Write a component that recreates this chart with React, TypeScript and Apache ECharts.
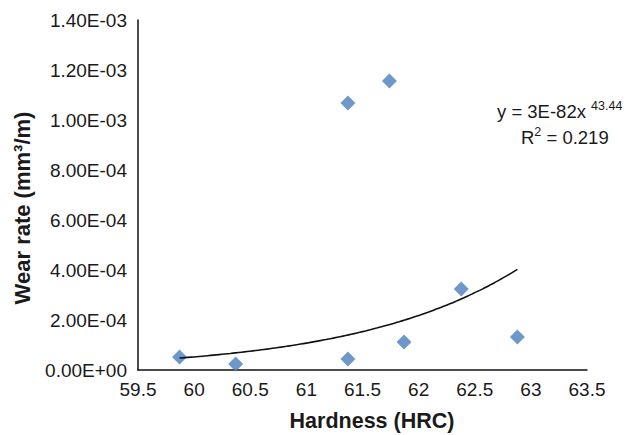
import React, { useEffect, useRef } from "react";
import * as echarts from "echarts";

// Data
const hardness = [59.87, 60.37, 61.37, 61.37, 61.74, 61.87, 62.38, 62.88];
const wearRate = [5.2e-5, 2.4e-5, 4.4e-5, 1.068e-3, 1.156e-3, 1.12e-4, 3.24e-4, 1.32e-4];

// Power trendline shown on the chart: y = 3E-82 x^43.44
const trendCoef = 3e-82;
const trendExp = 43.44;
const trendSamples = 60;

const xTicks = { min: 59.5, max: 63.5, interval: 0.5 };
const yTicks = { min: 0, max: 0.0014, interval: 0.0002 };

const FONT = "'Liberation Sans', Arial, Helvetica, sans-serif";
const TEXT = "#1a1a1a";

function sci(v: number): string {
  const s = v.toExponential(2); // e.g. 1.40e-3
  const [m, e] = s.split("e");
  const sign = e[0] === "-" ? "-" : "+";
  const digits = e.replace(/^[+-]/, "").padStart(2, "0");
  return `${m}E${sign}${digits}`;
}

export default function App() {
  const ref = useRef<HTMLDivElement>(null);

  useEffect(() => {
    if (!ref.current) return;
    const chart = echarts.init(ref.current, undefined, { renderer: "svg" });

    const points = hardness.map((h, i) => [h, wearRate[i]]);
    const xMin = Math.min(...hardness);
    const xMax = Math.max(...hardness);
    const trend: number[][] = [];
    for (let i = 0; i <= trendSamples; i++) {
      const x = xMin + ((xMax - xMin) * i) / trendSamples;
      trend.push([x, trendCoef * Math.pow(x, trendExp)]);
    }

    const richStyles = {
      m: { fontSize: 18.5, lineHeight: 22, fontFamily: FONT, fill: TEXT, verticalAlign: "bottom" },
      s: { fontSize: 12.5, lineHeight: 22, fontFamily: FONT, fill: TEXT, verticalAlign: "top" },
    };

    chart.setOption({
      animation: false,
      backgroundColor: "#ffffff",
      grid: { left: 138, right: 41, top: 20, bottom: 65, containLabel: false },
      xAxis: {
        type: "value",
        min: xTicks.min,
        max: xTicks.max,
        interval: xTicks.interval,
        axisLine: { show: true, onZero: false, lineStyle: { color: "#111", width: 1.5 } },
        axisTick: { show: false },
        splitLine: { show: false },
        axisLabel: { color: TEXT, fontSize: 19, fontFamily: FONT, margin: 10 },
      },
      yAxis: {
        type: "value",
        min: yTicks.min,
        max: yTicks.max,
        interval: yTicks.interval,
        axisLine: { show: true, onZero: false, lineStyle: { color: "#111", width: 1.5 } },
        axisTick: { show: false },
        splitLine: { show: false },
        axisLabel: {
          color: TEXT,
          fontSize: 19,
          fontFamily: FONT,
          margin: 11,
          formatter: (v: number) => sci(v),
        },
      },
      series: [
        {
          name: "Wear rate",
          type: "scatter",
          data: points,
          symbol: "diamond",
          symbolSize: 15,
          itemStyle: { color: "#4A7EBB" },
          z: 2,
        },
        {
          name: "Power trend",
          type: "line",
          data: trend,
          showSymbol: false,
          smooth: true,
          lineStyle: { color: "#111", width: 1.6 },
          z: 3,
        },
      ],
      graphic: [
        {
          type: "text",
          x: 372,
          y: 421,
          style: {
            text: "Hardness (HRC)",
            fontSize: 21.5,
            fontWeight: "bold",
            fontFamily: FONT,
            fill: TEXT,
            align: "center",
            verticalAlign: "middle",
          },
        },
        {
          type: "text",
          x: 22,
          y: 208,
          rotation: Math.PI / 2,
          style: {
            text: "Wear rate (mm³/m)",
            fontSize: 22,
            fontWeight: "bold",
            fontFamily: FONT,
            fill: TEXT,
            align: "center",
            verticalAlign: "middle",
          },
        },
        {
          type: "text",
          x: 497,
          y: 99,
          style: {
            text: "{m|y = 3E-82x }{s|43.44}",
            fontFamily: FONT,
            fill: TEXT,
            rich: richStyles,
          },
        },
        {
          type: "text",
          x: 521,
          y: 125,
          style: {
            text: "{m|R}{s|2}{m| = 0.219}",
            fontFamily: FONT,
            fill: TEXT,
            rich: richStyles,
          },
        },
      ],
    });

    return () => chart.dispose();
  }, []);

  return (
    <div
      ref={ref}
      style={{ position: "fixed", left: 0, top: 0, width: 628, height: 435 }}
    />
  );
}
